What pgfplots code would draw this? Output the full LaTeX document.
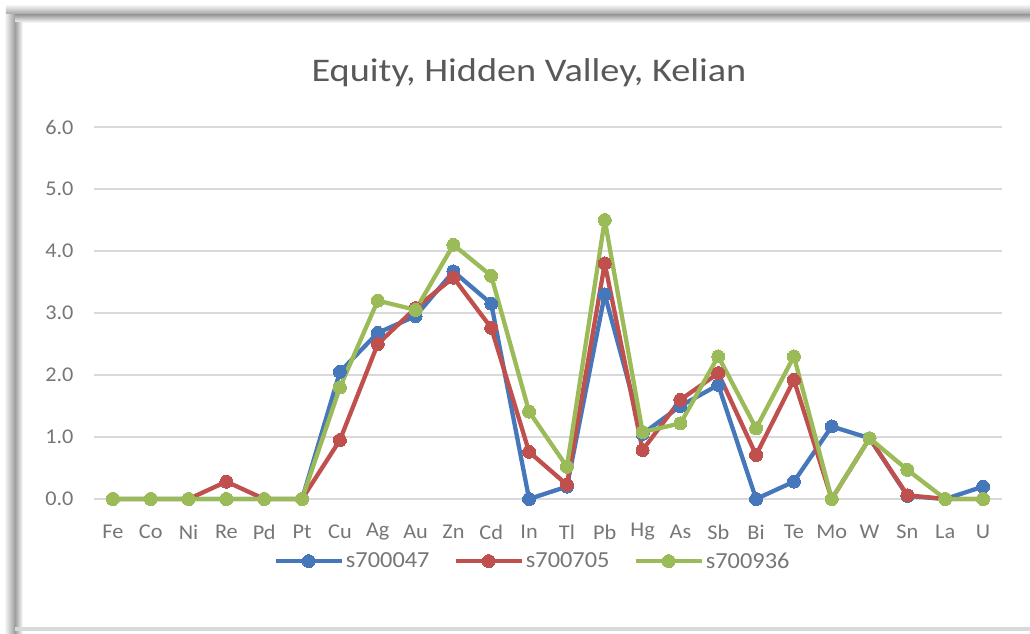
\documentclass[border=0pt]{standalone}
\usepackage{pgfplots}
\pgfplotsset{compat=1.18}
\usepackage{fontspec}
\setmainfont{Carlito}[FakeStretch=1.06]
\newfontfamily\titlefont{Carlito}[FakeStretch=1.16]
\definecolor{sblue}{HTML}{4677BA}
\definecolor{sred}{HTML}{C0504D}
\definecolor{sgreen}{HTML}{9BBB59}
\definecolor{txt}{HTML}{595959}
\definecolor{ltxt}{HTML}{767676}
\definecolor{gridc}{HTML}{D9D9D9}
\newcommand{\ip}[2]{({(#1-94)*1pt},{(499-#2)*1pt})}
\begin{document}
\begin{tikzpicture}
\useasboundingbox \ip{0}{0} rectangle \ip{1030}{634};
% card shadow
\shade[top color=white, bottom color=black!38] \ip{6}{4} rectangle \ip{1030}{15};
\shade[top color=black!38, bottom color=white] \ip{15}{15} rectangle \ip{1030}{23};
\shade[left color=white, right color=black!38] \ip{4}{15} rectangle \ip{15}{634};
\shade[left color=black!38, right color=white] \ip{15}{23} rectangle \ip{23}{634};
\fill[black!15] \ip{15}{627} rectangle \ip{1030}{631};
\node[font=\titlefont\fontsize{33}{38}\selectfont, text=txt] at \ip{529}{73} {Equity, Hidden Valley, Kelian};
\begin{axis}[
  at={(0,0)}, anchor=south west,
  scale only axis, width=908pt, height=372pt,
  xmin=-0.5, xmax=23.5, ymin=0, ymax=6,
  clip=false,
  axis line style={draw=none},
  xtick={0,...,23},
  xticklabels={Fe,Co,Ni,Re,Pd,Pt,Cu,Ag,Au,Zn,Cd,In,Tl,Pb,Hg,As,Sb,Bi,Te,Mo,W,Sn,La,U},
  ytick={0,1,...,6},
  major tick length=0pt,
  ymajorgrids, major grid style={gridc, line width=1.6pt},
  yticklabel={\pgfmathprintnumber[fixed,fixed zerofill,precision=1]{\tick}},
  /pgf/number format/assume math mode=true,
  ticklabel style={font=\fontsize{21}{24}\selectfont, text=ltxt},
  yticklabel style={xshift=-17pt},
  xticklabel style={yshift=-33pt, anchor=center},
  legend columns=3,
  legend style={at={(axis description cs:0.483,-0.167)}, anchor=center, draw=none, fill=none,
    font=\fontsize{23}{27}\selectfont, text=ltxt, /tikz/every even column/.append style={column sep=22pt}},
  legend image code/.code={\draw[mark repeat=2,mark phase=2] plot coordinates {(0pt,0pt)(33pt,0pt)(66pt,0pt)};},
  every axis plot/.append style={line width=4.3pt, line join=round, mark=*, mark size=6.5pt},
]
\addplot[sblue, mark options={fill=sblue, draw=sblue, line width=0pt}] coordinates {
(0,0)(1,0)(2,0)(3,0)(4,0)(5,0)(6,2.05)(7,2.68)(8,2.95)(9,3.67)(10,3.15)(11,0)(12,0.2)(13,3.3)(14,1.05)(15,1.5)(16,1.84)(17,0)(18,0.28)(19,1.17)(20,0.98)(21,0.05)(22,0)(23,0.2)};
\addlegendentry{s700047}
\addplot[sred, mark options={fill=sred, draw=sred, line width=0pt}] coordinates {
(0,0)(1,0)(2,0)(3,0.28)(4,0)(5,0)(6,0.95)(7,2.5)(8,3.08)(9,3.57)(10,2.76)(11,0.76)(12,0.23)(13,3.8)(14,0.79)(15,1.6)(16,2.03)(17,0.71)(18,1.92)(19,0)(20,0.98)(21,0.06)(22,0)(23,0)};
\addlegendentry{s700705}
\addplot[sgreen, mark options={fill=sgreen, draw=sgreen, line width=0pt}] coordinates {
(0,0)(1,0)(2,0)(3,0)(4,0)(5,0)(6,1.8)(7,3.2)(8,3.05)(9,4.1)(10,3.6)(11,1.41)(12,0.52)(13,4.5)(14,1.08)(15,1.22)(16,2.3)(17,1.14)(18,2.3)(19,0)(20,0.98)(21,0.47)(22,0)(23,0)};
\addlegendentry{s700936}
\end{axis}
\end{tikzpicture}
\end{document}
